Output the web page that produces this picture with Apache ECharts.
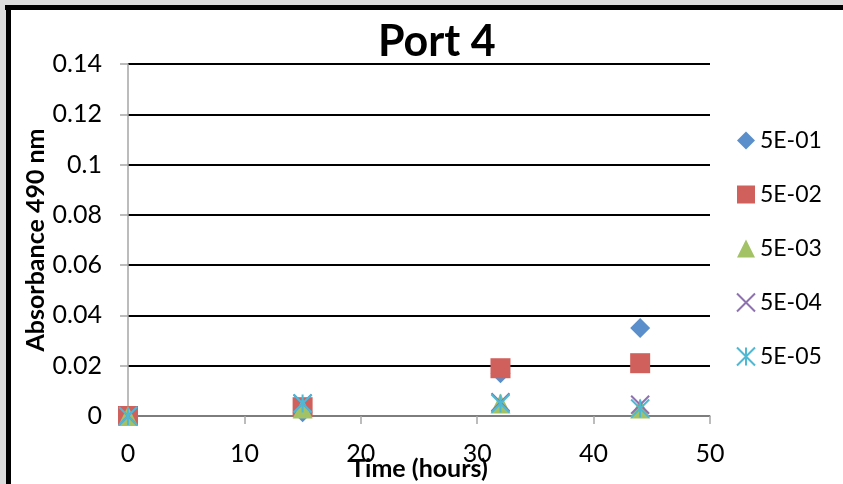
<!DOCTYPE html>
<html>
<head>
<meta charset="utf-8">
<script src="https://cdn.jsdelivr.net/npm/echarts@6/dist/echarts.min.js"></script>
<style>
  html, body { margin: 0; padding: 0; background: #fff; }
  #chart { width: 843px; height: 484px; }
</style>
</head>
<body>
<div id="chart"></div>
<script>
// Sampling times (hours) and absorbance readings per dilution
const hours = [0, 15, 32, 44];
const dil1 = [0, 0.0015, 0.017, 0.035];     // 5E-01
const dil2 = [0, 0.0035, 0.019, 0.021];     // 5E-02
const dil3 = [0, 0.003, 0.005, 0.003];      // 5E-03
const dil4 = [0, 0.005, 0.0055, 0.0045];    // 5E-04
const dil5 = [0, 0.005, 0.005, 0.003];      // 5E-05
const seriesNames = ['5E-01', '5E-02', '5E-03', '5E-04', '5E-05'];
const xTicks = { min: 0, max: 50, step: 10 };
const yTicks = { min: 0, max: 0.14, step: 0.02 };

const FONT = 'Lato, "Open Sans", sans-serif';
const pairs = vals => hours.map((h, i) => [h, vals[i]]);

const markers = [
  { data: dil1, symbol: 'diamond', size: 20, style: { color: '#5B8FCB', opacity: 1 } },
  { data: dil2, symbol: 'rect', size: 20, style: { color: '#D0605B', opacity: 1 } },
  { data: dil3, symbol: 'triangle', size: 20, style: { color: '#A3C266', opacity: 1 } },
  { data: dil4, symbol: 'path://M0,0L10,10M10,0L0,10', size: 18,
    style: { color: 'rgba(0,0,0,0)', borderColor: '#8E72B0', borderWidth: 2, opacity: 1 } },
  { data: dil5, symbol: 'path://M0,0L10,10M10,0L0,10M5,0L5,10', size: 18,
    style: { color: 'rgba(0,0,0,0)', borderColor: '#4FB8D2', borderWidth: 2, opacity: 1 } }
];

const chart = echarts.init(document.getElementById('chart'), null, { renderer: 'canvas' });

chart.setOption({
  backgroundColor: '#ffffff',
  animation: false,
  textStyle: { fontFamily: FONT },
  title: {
    text: 'Port 4',
    left: 378,
    top: 21,
    padding: 0,
    textStyle: { fontFamily: FONT, fontSize: 43, fontWeight: 'bold', color: '#000' }
  },
  grid: { left: 128, top: 64, width: 582, height: 352, containLabel: false, outerBoundsMode: 'none' },
  legend: {
    orient: 'vertical',
    left: 731,
    top: 124,
    itemWidth: 18,
    itemHeight: 18,
    itemGap: 31,
    textStyle: { fontFamily: FONT, fontSize: 23, color: '#000', lineHeight: 23 },
    data: seriesNames
  },
  xAxis: {
    type: 'value',
    min: xTicks.min,
    max: xTicks.max,
    interval: xTicks.step,
    name: 'Time (hours)',
    nameLocation: 'middle',
    nameGap: 40,
    nameMoveOverlap: false,
    nameTextStyle: { fontFamily: FONT, fontSize: 25, fontWeight: 'bold', color: '#000' },
    axisLine: { show: true, onZero: false, lineStyle: { color: '#a6a6a6', width: 1.5 } },
    axisTick: { show: true, length: 8, lineStyle: { color: '#a6a6a6', width: 1.5 } },
    axisLabel: { margin: 25, fontSize: 25, color: '#000', fontFamily: FONT },
    splitLine: { show: false }
  },
  yAxis: {
    type: 'value',
    min: yTicks.min,
    max: yTicks.max,
    interval: yTicks.step,
    name: 'Absorbance 490 nm',
    nameLocation: 'middle',
    nameGap: 80,
    nameMoveOverlap: false,
    nameTextStyle: { fontFamily: FONT, fontSize: 25, fontWeight: 'bold', color: '#000' },
    axisLine: { show: true, lineStyle: { color: '#a6a6a6', width: 1.5 } },
    axisTick: { show: true, length: 8, lineStyle: { color: '#a6a6a6', width: 1.5 } },
    axisLabel: { margin: 26, fontSize: 25, color: '#000', fontFamily: FONT,
      formatter: v => String(+v.toFixed(2)) },
    splitLine: { show: true, lineStyle: { color: '#000', width: 2 } }
  },
  series: markers.map((m, i) => ({
    name: seriesNames[i],
    type: 'scatter',
    clip: false,
    symbol: m.symbol,
    symbolSize: m.size,
    itemStyle: m.style,
    data: pairs(m.data)
  })),
  graphic: [
    // grey margin and black frame along the top and left edges
    { type: 'rect', shape: { x: 0, y: 0, width: 843, height: 5 }, style: { fill: '#dcdcdc' }, silent: true },
    { type: 'rect', shape: { x: 0, y: 0, width: 6, height: 484 }, style: { fill: '#dcdcdc' }, silent: true },
    { type: 'rect', shape: { x: 5, y: 5, width: 838, height: 5 }, style: { fill: '#000' }, silent: true },
    { type: 'rect', shape: { x: 6, y: 5, width: 5, height: 479 }, style: { fill: '#000' }, silent: true }
  ]
});
</script>
</body>
</html>
